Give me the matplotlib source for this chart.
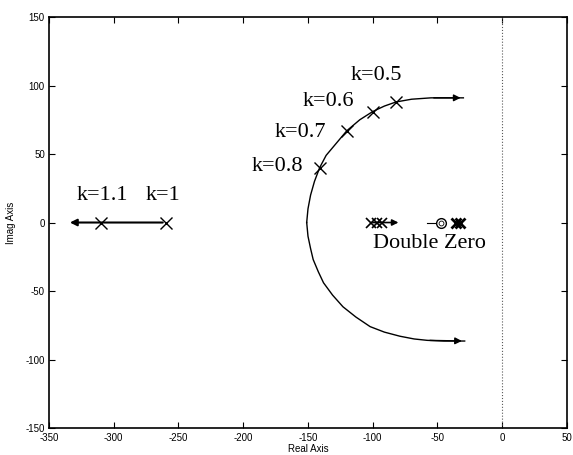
import matplotlib
matplotlib.use('Agg')
import matplotlib.pyplot as plt

# ---- data ----
upper_x = [-151, -150, -148, -145, -141, -136, -128, -120, -110, -100, -91, -82, -70, -55, -40, -30]
upper_y = [0, 10, 20, 30, 40, 49, 58, 67, 75, 81, 85, 88, 90, 91, 91, 91]
lower_x = [-151, -150, -148, -146, -142, -138, -131, -123, -113, -102, -91, -79, -68, -58, -45, -29]
lower_y = [0, -10, -19, -27, -36, -44, -53, -61.5, -69, -76, -80, -83, -85, -86, -86.5, -86.5]

curve_k_x = [-141, -120, -100, -82]
curve_k_y = [40, 67, 81, 88]
curve_k_labels = ['k=0.8', 'k=0.7', 'k=0.6', 'k=0.5']
curve_label_x = [-154, -136, -114, -77]
curve_label_y = [41, 66, 88, 107]

left_x = [-260, -336]
left_k_x = [-310, -260]
left_k_labels = ['k=1.1', 'k=1']
left_label_x = [-309, -262]
left_label_y = [20, 20]

right_seg_x = [-102, -78]
right_marks_x = [-101, -97, -93]
zero_x = [-47.5]
pole_x = [-36, -33]

xticks = [-350, -300, -250, -200, -150, -100, -50, 0, 50]
yticks = [-150, -100, -50, 0, 50, 100, 150]

serif = 'Liberation Serif'
sans = 'Liberation Sans'

fig = plt.figure(figsize=(5.73, 4.55), dpi=100)
ax = fig.add_axes([0.0855, 0.0593, 0.904, 0.9033])

ax.set_xlim(-350, 50)
ax.set_ylim(-150, 150)

# imaginary axis dotted line
ax.plot([0, 0], [-150, 150], ls=':', color='0.35', lw=0.8)

# root locus branches
ax.plot(upper_x, upper_y, color='black', lw=1.0)
ax.plot(lower_x, lower_y, color='black', lw=1.0)
ax.annotate('', xy=(upper_x[-1], upper_y[-1]), xytext=(upper_x[-3], upper_y[-3]),
            arrowprops=dict(arrowstyle='-|>', color='black', lw=1.0, mutation_scale=10))
ax.annotate('', xy=(lower_x[-1], lower_y[-1]), xytext=(lower_x[-3], lower_y[-3]),
            arrowprops=dict(arrowstyle='-|>', color='black', lw=1.0, mutation_scale=10))
ax.plot(curve_k_x, curve_k_y, ls='none', marker='x', ms=8, mew=1.0, color='black')
for lx, ly, t in zip(curve_label_x, curve_label_y, curve_k_labels):
    ax.text(lx, ly, t, family=serif, fontsize=16, ha='right', va='center')

# left real-axis branch
ax.annotate('', xy=(left_x[1], 0), xytext=(left_x[0], 0),
            arrowprops=dict(arrowstyle='-|>', color='black', lw=1.5, mutation_scale=10))
ax.plot(left_k_x, [0] * len(left_k_x), ls='none', marker='x', ms=8, mew=1.0, color='black')
for lx, ly, t in zip(left_label_x, left_label_y, left_k_labels):
    ax.text(lx, ly, t, family=serif, fontsize=16, ha='center', va='center')

# right real-axis segment near zeros
ax.annotate('', xy=(right_seg_x[1], 0), xytext=(right_seg_x[0], 0),
            arrowprops=dict(arrowstyle='-|>', color='black', lw=1.2, mutation_scale=9))
ax.plot(right_marks_x, [0] * len(right_marks_x), ls='none', marker='x', ms=7, mew=1.2, color='black')
ax.plot([-58, -50], [0, 0], color='black', lw=0.8)
ax.plot(zero_x, [0], ls='none', marker='o', ms=7, mfc='white', mec='black', mew=1.0)
ax.plot(zero_x, [0], ls='none', marker='o', ms=3.5, mfc='none', mec='black', mew=0.6)
ax.plot(pole_x, [0] * len(pole_x), ls='none', marker='x', ms=7, mew=2.0, color='black')
ax.text(-100, -15, 'Double Zero', family=serif, fontsize=16, ha='left', va='center')

# axes styling
ax.set_xticks(xticks)
ax.set_yticks(yticks)
ax.set_xticklabels([str(v) for v in xticks], family=sans, fontsize=7)
ax.set_yticklabels([str(v) for v in yticks], family=sans, fontsize=7)
ax.tick_params(direction='in', top=True, right=True, length=4, width=0.8)
ax.tick_params(axis='x', pad=3.5)
ax.tick_params(axis='y', pad=3)
for s in ax.spines.values():
    s.set_linewidth(1.2)
ax.set_xlabel('Real Axis', family=sans, fontsize=7, labelpad=1)
ax.set_ylabel('Imag Axis', family=sans, fontsize=7, labelpad=7)

fig.savefig('out.png', dpi=100)
